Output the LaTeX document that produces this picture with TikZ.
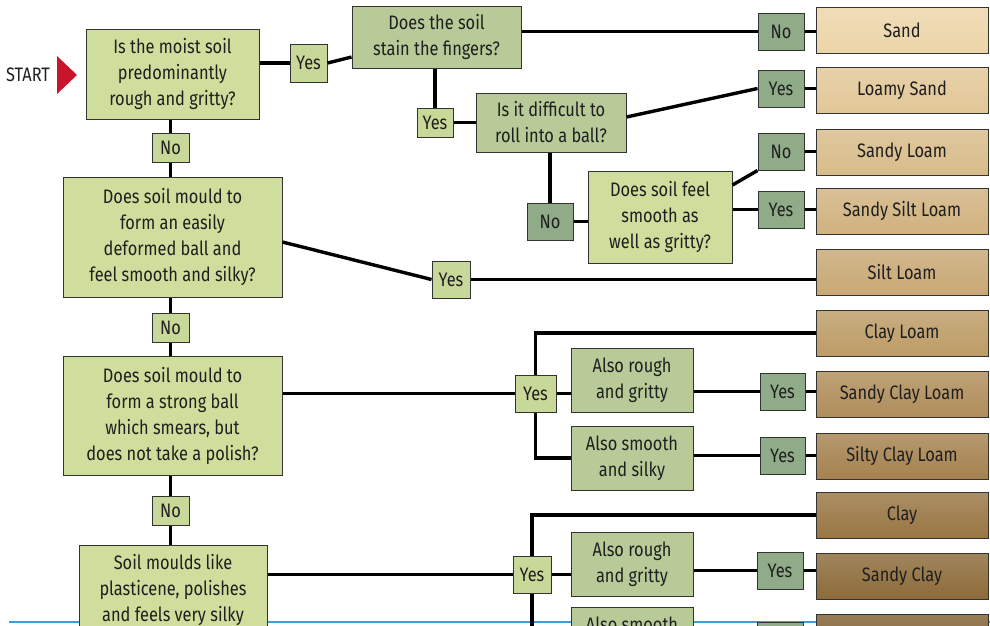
\documentclass[tikz,border=0pt]{standalone}
\usepackage{fontspec}
\setmainfont[FakeStretch=0.84]{Fira Sans}
\usetikzlibrary{calc,backgrounds}
\definecolor{qlight}{HTML}{CFDE9C}
\definecolor{qdark}{HTML}{B7CA98}
\definecolor{ansdark}{HTML}{8FAB88}
\definecolor{anslight}{HTML}{C8D898}
\definecolor{bord}{HTML}{333333}
\definecolor{startred}{HTML}{C8142D}
\definecolor{bluesep}{HTML}{3AA0DC}
\definecolor{cSand}{HTML}{ECD5A8}
\definecolor{cLoamySand}{HTML}{E2C797}
\definecolor{cSandyLoam}{HTML}{D8BC8A}
\definecolor{cSSL}{HTML}{D1B27F}
\definecolor{cSiltLoam}{HTML}{C8A874}
\definecolor{cClayLoam}{HTML}{BD9C66}
\definecolor{cSCL}{HTML}{B08D5A}
\definecolor{cSiCL}{HTML}{A5824F}
\definecolor{cClay}{HTML}{997643}
\definecolor{cSandyClay}{HTML}{8C6B39}
\definecolor{cLast}{HTML}{806033}
\tikzset{
  base/.style={draw=bord, line width=1pt, rectangle, inner sep=0pt, align=center,
    font=\fontsize{19.5}{26}\selectfont, text=black!88},
  qbox/.style={base, fill=qlight},
  qdbox/.style={base, fill=qdark},
  ansd/.style={base, fill=ansdark},
  ansl/.style={base, fill=anslight},
  result/.style={base, top color=#1!82!white, bottom color=#1, minimum width=172, minimum height=46},
  conn/.style={line width=3.4pt, black},
  sz/.style 2 args={minimum width=#1, minimum height=#2},
}
\begin{document}
\begin{tikzpicture}[x=1pt,y=-1pt]
\useasboundingbox (0,0) rectangle (990,625);
\clip (0,0) rectangle (990,625);

% start marker
\node[anchor=east, inner sep=0pt, font=\fontsize{19.5}{26}\selectfont, text=black!88] (start) at (50,75) {START};
\fill[startred] (57,56) -- (77,75) -- (57,94) -- cycle;

% questions
\node[qbox, sz={173}{90}] (q1) at (172.5,74) {Is the moist soil\\predominantly\\rough and gritty?};
\node[qdbox, sz={169}{62}] (q2) at (436.5,37) {Does the soil\\stain the fingers?};
\node[qdbox, sz={150}{59}] (q3) at (551,122.5) {Is it difficult to\\roll into a ball?};
\node[qbox, sz={144}{92}] (q4) at (660,217) {Does soil feel\\smooth as\\well as gritty?};
\node[qbox, sz={219}{120}] (q5) at (172.5,237) {Does soil mould to\\form an easily\\deformed ball and\\feel smooth and silky?};
\node[qbox, sz={219}{119}] (q6) at (172.5,415.5) {Does soil mould to\\form a strong ball\\which smears, but\\does not take a polish?};
\node[qbox, sz={188}{90}] (q7) at (173,590) {Soil moulds like\\plasticene, polishes\\and feels very silky};
\node[qdbox, sz={122}{64}] (rough1) at (632,380) {Also rough\\and gritty};
\node[qdbox, sz={122}{64}] (smooth1) at (632,458) {Also smooth\\and silky};
\node[qdbox, sz={122}{64}] (rough2) at (632,564) {Also rough\\and gritty};
\node[qdbox, sz={122}{64}] (smooth2) at (632,639) {Also smooth\\and silky};

% answers
\node[ansl, sz={37}{38}] (yes1) at (308.5,63) {Yes};
\node[ansl, sz={36}{29}] (yes2) at (435,122.5) {Yes};
\node[ansd, sz={46}{37}] (no1) at (781,31.5) {No};
\node[ansd, sz={46}{37}] (yes3) at (781,88.5) {Yes};
\node[ansd, sz={46}{37}] (no2) at (550,221.5) {No};
\node[ansd, sz={46}{37}] (no3) at (781,151.5) {No};
\node[ansd, sz={46}{37}] (yes4) at (781,209.5) {Yes};
\node[ansl, sz={37}{29}] (no4) at (170.5,147.5) {No};
\node[ansl, sz={38}{37}] (yes5) at (451,279.5) {Yes};
\node[ansl, sz={37}{29}] (no5) at (170.5,327.5) {No};
\node[ansl, sz={41}{37}] (yes6) at (535.5,393.5) {Yes};
\node[ansd, sz={45}{37}] (yes7) at (782.5,391.5) {Yes};
\node[ansd, sz={45}{37}] (yes8) at (782.5,455.5) {Yes};
\node[ansl, sz={37}{29}] (no6) at (170.5,510.5) {No};
\node[ansl, sz={38}{37}] (yes10) at (532,574.5) {Yes};
\node[ansd, sz={46}{37}] (yes9) at (780,570.5) {Yes};
\node[ansd, sz={46}{37}] (yes11) at (780,640.5) {};

% results
\node[result=cSand] (sand) at (902,30) {Sand};
\node[result=cLoamySand] (loamy) at (902,90) {Loamy Sand};
\node[result=cSandyLoam] (sandyloam) at (902,152) {Sandy Loam};
\node[result=cSSL] (ssl) at (902,211) {Sandy Silt Loam};
\node[result=cSiltLoam] (siltloam) at (902,272.5) {Silt Loam};
\node[result=cClayLoam] (clayloam) at (902,333) {Clay Loam};
\node[result=cSCL] (scl) at (902,394) {Sandy Clay Loam};
\node[result=cSiCL] (sicl) at (902,456) {Silty Clay Loam};
\node[result=cClay] (clay) at (902,515) {Clay};
\node[result=cSandyClay] (sandyclay) at (902,576) {Sandy Clay};
\node[result=cLast] (last) at (902,637) {};

% connectors
\draw[conn] (yes1.west) -- (yes1.west -| q1.east);
\draw[conn] (yes1.east) -- ($(q2.west)+(0,20)$);
\draw[conn] (no1.west) -- (no1.west -| q2.east);
\draw[conn] (no1.east) -- (no1.east -| sand.west);
\draw[conn] (yes2.north) -- (yes2.north |- q2.south);
\draw[conn] (yes2.east) -- (yes2.east -| q3.west);
\draw[conn] ($(q3.east)+(0,-5.5)$) -- (yes3.west);
\draw[conn] (yes3.east) -- (yes3.east -| loamy.west);
\draw[conn] (no2.north) -- (no2.north |- q3.south);
\draw[conn] (no2.east) -- (no2.east -| q4.west);
\draw[conn] ($(q4.east)+(0,-32)$) -- (no3.south west);
\draw[conn] (no3.east) -- (no3.east -| sandyloam.west);
\draw[conn] (yes4.west) -- (yes4.west -| q4.east);
\draw[conn] (yes4.east) -- (yes4.east -| ssl.west);
\draw[conn] (no4.north) -- (no4.north |- q1.south);
\draw[conn] (no4.south) -- (no4.south |- q5.north);
\draw[conn] ($(q5.east)+(0,5)$) -- (yes5.west);
\draw[conn] (yes5.east) -- (yes5.east -| siltloam.west);
\draw[conn] (no5.north) -- (no5.north |- q5.south);
\draw[conn] (no5.south) -- (no5.south |- q6.north);
\draw[conn] (yes6.west) -- (yes6.west -| q6.east);
\draw[conn] (yes6.north) |- (clayloam.west);
\draw[conn] (yes6.south) |- (smooth1.west);
\draw[conn] (yes6.east) -- (yes6.east -| rough1.west);
\draw[conn] (yes7.west) -- (yes7.west -| rough1.east);
\draw[conn] (yes7.east) -- (yes7.east -| scl.west);
\draw[conn] (yes8.west) -- (yes8.west -| smooth1.east);
\draw[conn] (yes8.east) -- (yes8.east -| sicl.west);
\draw[conn] (no6.north) -- (no6.north |- q6.south);
\draw[conn] (no6.south) -- (no6.south |- q7.north);
\draw[conn] (yes10.west) -- (yes10.west -| q7.east);
\draw[conn] (yes10.north) |- (clay.west);
\draw[conn] (yes10.south) |- (smooth2.west);
\draw[conn] (yes10.east) -- (yes10.east -| rough2.west);
\draw[conn] (yes9.west) -- (yes9.west -| rough2.east);
\draw[conn] (yes9.east) -- (yes9.east -| sandyclay.west);
\draw[conn] (yes11.west) -- (yes11.west -| smooth2.east);
\draw[conn] (yes11.east) -- (yes11.east -| last.west);

\begin{pgfonlayer}{background}
\coordinate (bl) at (9,622);
\coordinate (br) at (990,622);
\draw[bluesep, line width=1.5pt] (bl) -- (br);
\end{pgfonlayer}
\end{tikzpicture}
\end{document}
